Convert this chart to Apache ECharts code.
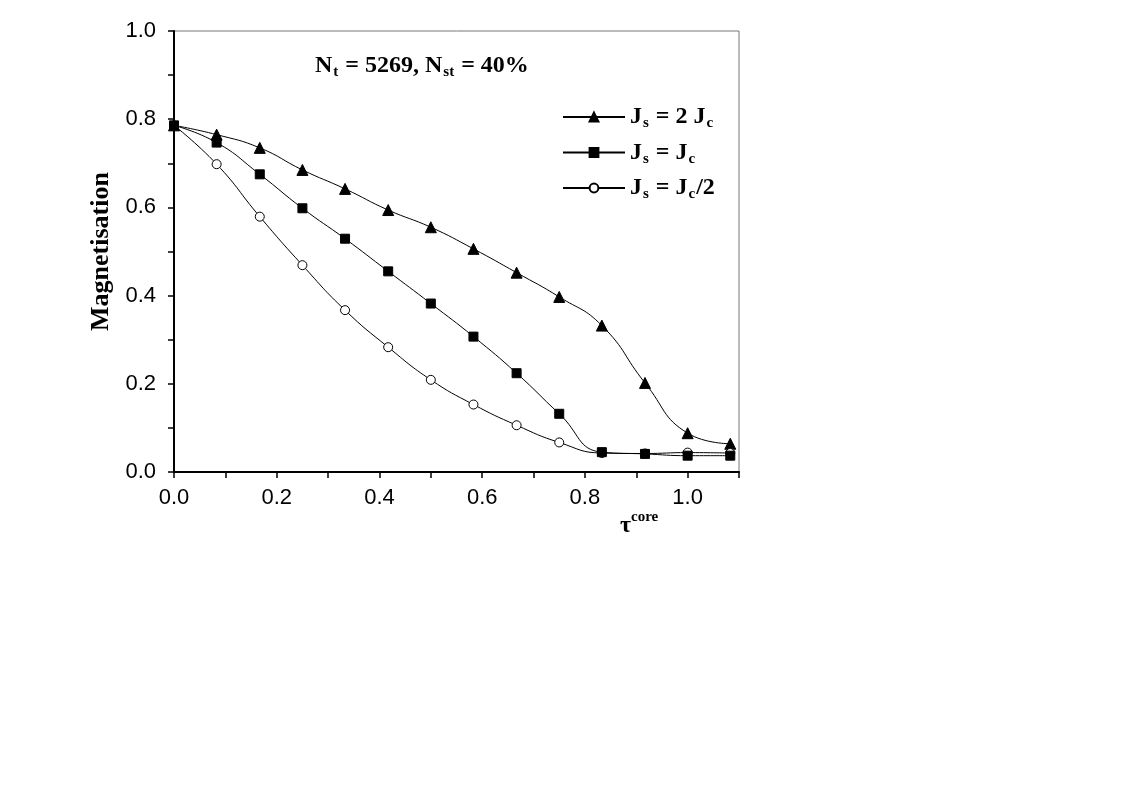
<!DOCTYPE html>
<html>
<head>
<meta charset="utf-8">
<script src="https://cdn.jsdelivr.net/npm/echarts@6/dist/echarts.min.js"></script>
<style>
  html, body { margin: 0; padding: 0; background: #fff; }
  #chart { width: 1132px; height: 789px; }
</style>
</head>
<body>
<div id="chart"></div>
<script>
// tau^core values (steps of 1/12)
const tau = [0, 0.083, 0.167, 0.25, 0.333, 0.417, 0.5, 0.583, 0.667, 0.75, 0.833, 0.917, 1.0, 1.083]
// Js = 2 Jc
const magTwo = [0.786, 0.765, 0.735, 0.685, 0.642, 0.594, 0.555, 0.506, 0.452, 0.397, 0.332, 0.202, 0.088, 0.064]
// Js = Jc
const magOne = [0.786, 0.747, 0.675, 0.598, 0.529, 0.455, 0.382, 0.307, 0.224, 0.132, 0.045, 0.041, 0.037, 0.037]
// Js = Jc/2
const magHalf = [0.786, 0.698, 0.579, 0.469, 0.367, 0.283, 0.209, 0.153, 0.106, 0.067, 0.043, 0.042, 0.044, 0.043]

const serif = '"Liberation Serif", "Times New Roman", serif'
const sans = '"Liberation Sans", Arial, sans-serif'

const richText = {
    b: { fontFamily: serif, fontWeight: 'bold', fontSize: 24, color: '#000', lineHeight: 28 },
    s: { fontFamily: serif, fontWeight: 'bold', fontSize: 15, color: '#000', padding: [13, 1, 0, 1], lineHeight: 28 }
}

function pairs (ys) {
    return tau.map((t, i) => [t, ys[i]])
}

function evenTenth (v) {
    const k = Math.round(v * 10)
    if (k % 2 !== 0 || k > 10) return ''
    return v.toFixed(1)
}

const chart = echarts.init(document.getElementById('chart'))

const lineSeries = (name, ys, symbol, size, fill, z) => ({
    name: name,
    type: 'line',
    data: pairs(ys),
    smooth: 0.5,
    symbol: symbol,
    symbolSize: size,
    showSymbol: true,
    lineStyle: { color: '#000', width: 1 },
    itemStyle: { color: fill, borderColor: '#000', borderWidth: 1 },
    emphasis: { disabled: true },
    z: z
})

const option = {
    animation: false,
    title: {
        text: '{b|N}{s|t}{b| = 5269, N}{s|st}{b| = 40%}',
        left: 310,
        top: 47,
        textStyle: { rich: richText }
    },
    legend: {
        left: 562,
        top: 103,
        padding: 0,
        orient: 'vertical',
        itemWidth: 62,
        itemHeight: 11,
        itemGap: 7.5,
        data: ['two', 'one', 'half'],
        formatter: function (name) {
            if (name === 'two') return '{b|J}{s|s}{b| = 2 J}{s|c}'
            if (name === 'one') return '{b|J}{s|s}{b| = J}{s|c}'
            return '{b|J}{s|s}{b| = J}{s|c}{b|/2}'
        },
        textStyle: { rich: richText }
    },
    grid: {
        left: 174,
        top: 31,
        right: 393,
        bottom: 317,
        show: true,
        borderColor: '#777',
        borderWidth: 1
    },
    xAxis: {
        type: 'value',
        min: 0,
        max: 1.1,
        interval: 0.1,
        axisLine: { onZero: false, lineStyle: { color: '#000', width: 2 } },
        axisTick: { show: true, inside: false, length: 6, lineStyle: { color: '#000', width: 1.5 } },
        axisLabel: {
            color: '#000', fontFamily: sans, fontSize: 22, margin: 15,
            formatter: evenTenth, showMaxLabel: true
        },
        splitLine: { show: false }
    },
    yAxis: {
        type: 'value',
        min: 0,
        max: 1.0,
        interval: 0.1,
        name: 'Magnetisation',
        nameLocation: 'middle',
        nameRotate: 90,
        nameGap: 60,
        nameTextStyle: { fontFamily: serif, fontWeight: 'bold', fontSize: 26, color: '#000' },
        axisLine: { onZero: false, lineStyle: { color: '#000', width: 2 } },
        axisTick: { show: true, inside: false, length: 6, lineStyle: { color: '#000', width: 1.5 } },
        axisLabel: {
            color: '#000', fontFamily: sans, fontSize: 22, margin: 18,
            formatter: evenTenth
        },
        splitLine: { show: false }
    },
    graphic: [
        {
            type: 'text',
            left: 620,
            top: 504,
            style: {
                text: '{t|τ}{u|core}',
                rich: {
                    t: { fontFamily: serif, fontWeight: 'bold', fontSize: 24, fill: '#000', lineHeight: 30, padding: [10, 0, 0, 0] },
                    u: { fontFamily: serif, fontWeight: 'bold', fontSize: 15, fill: '#000', lineHeight: 30, padding: [0, 0, 8, 0] }
                }
            }
        }
    ],
    series: [
        lineSeries('two', magTwo, 'triangle', 11, '#000', 3),
        lineSeries('one', magOne, 'rect', 9, '#000', 5),
        lineSeries('half', magHalf, 'circle', 9, '#fff', 4)
    ]
}

chart.setOption(option)
</script>
</body>
</html>
